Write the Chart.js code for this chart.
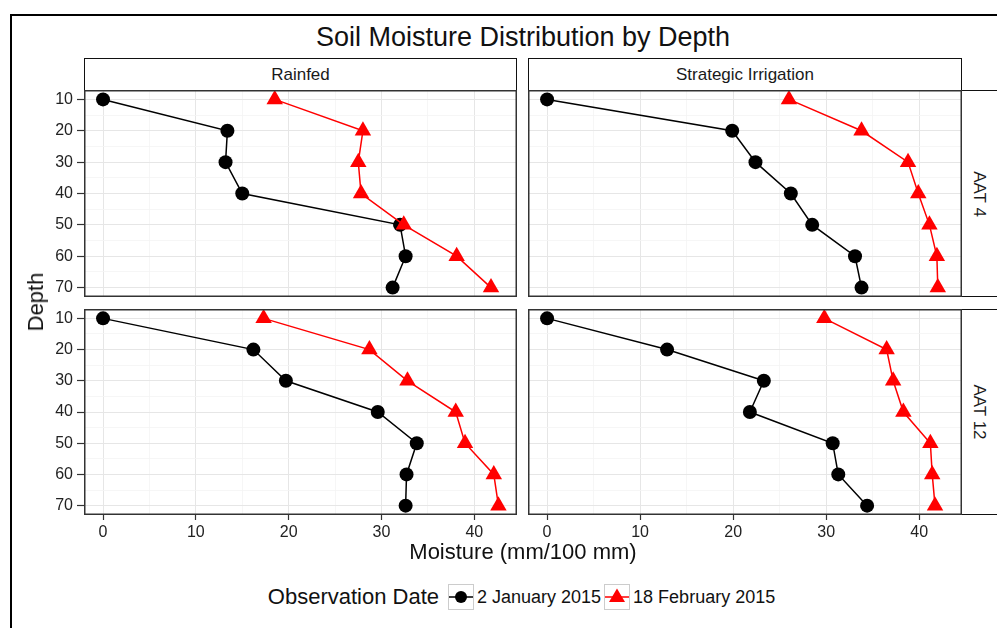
<!DOCTYPE html>
<html>
<head>
<meta charset="utf-8">
<script src="https://cdn.jsdelivr.net/npm/chart.js@4.4.1/dist/chart.umd.min.js"></script>
<style>
  html, body { margin:0; padding:0; background:#fff; overflow:hidden; }
  body { width:997px; height:628px; position:relative; font-family:'Liberation Sans', Arial, sans-serif; }
  canvas { position:absolute; }
  .frame { position:absolute; left:10px; top:14px; width:1100px; height:800px; border:2px solid #000; box-sizing:border-box; }
  .strip { position:absolute; box-sizing:border-box; border:1.5px solid #111; background:#fff; color:#1a1a1a; font-size:17px; display:flex; align-items:center; justify-content:center; }
  .vtext { transform:rotate(90deg); white-space:nowrap; }
  .title { position:absolute; left:84px; width:878px; top:22px; text-align:center; font-size:27px; color:#111; }
  .xlabel { position:absolute; left:84px; width:878px; top:539px; text-align:center; font-size:22px; color:#111; }
  .ylabel { position:absolute; left:36px; top:302px; transform:translate(-50%,-50%) rotate(-90deg); font-size:22px; color:#111; white-space:nowrap; }
  .legend { position:absolute; left:84px; width:878px; top:584px; height:26px; display:flex; align-items:center; justify-content:center; color:#111; }
  .legend .lt { font-size:22px; margin-right:9px; }
  .legend .li { font-size:18px; margin-left:3px; margin-right:3px; }
  .legend svg { display:block; }
</style>
</head>
<body>
<div class="frame"></div>
<div class="title">Soil Moisture Distribution by Depth</div>

<div class="strip" style="left:84px; top:58px; width:433px; height:33px;">Rainfed</div>
<div class="strip" style="left:528px; top:58px; width:434px; height:33px;">Strategic Irrigation</div>
<div class="strip" style="left:961px; top:90px; width:60px; height:207px;"><span class="vtext" style="margin-right:25px;">AAT 4</span></div>
<div class="strip" style="left:961px; top:309px; width:60px; height:206px;"><span class="vtext" style="margin-right:25px;">AAT 12</span></div>

<canvas id="c1" width="477" height="207" style="left:40px; top:90px;"></canvas>
<canvas id="c2" width="434" height="207" style="left:528px; top:90px;"></canvas>
<canvas id="c3" width="477" height="236" style="left:40px; top:309px;"></canvas>
<canvas id="c4" width="434" height="236" style="left:528px; top:309px;"></canvas>

<div class="ylabel">Depth</div>
<div class="xlabel">Moisture (mm/100 mm)</div>

<div class="legend">
  <span class="lt">Observation Date</span>
  <svg width="26" height="26"><rect x="0.5" y="0.5" width="25" height="25" fill="#fff" stroke="#cccccc"/><line x1="1" y1="13" x2="25" y2="13" stroke="#000" stroke-width="1.5"/><circle cx="13" cy="13" r="6" fill="#000"/></svg>
  <span class="li">2 January 2015</span>
  <svg width="26" height="26"><rect x="0.5" y="0.5" width="25" height="25" fill="#fff" stroke="#cccccc"/><line x1="1" y1="13" x2="25" y2="13" stroke="#ff0000" stroke-width="1.5"/><polygon points="13,4.5 21,18 5,18" fill="#ff0000"/></svg>
  <span class="li">18 February 2015</span>
</div>

<script>
// ---- Data ----
const depths = [10, 20, 30, 40, 50, 60, 70];
const seriesNames = ['2 January 2015', '18 February 2015'];
const facetCols = ['Rainfed', 'Strategic Irrigation'];
const facetRows = ['AAT 4', 'AAT 12'];

const rainfedAAT4Jan   = [0, 13.4, 13.2, 15.0, 32.0, 32.6, 31.2];
const rainfedAAT4Feb   = [18.5, 28.0, 27.5, 27.8, 32.4, 38.1, 41.8];
const irrigAAT4Jan     = [0, 19.9, 22.4, 26.2, 28.5, 33.1, 33.8];
const irrigAAT4Feb     = [26.0, 33.8, 38.8, 39.9, 41.1, 41.9, 42.0];
const rainfedAAT12Jan  = [0, 16.2, 19.7, 29.6, 33.8, 32.7, 32.6];
const rainfedAAT12Feb  = [17.3, 28.7, 32.8, 38.0, 39.0, 42.1, 42.6];
const irrigAAT12Jan    = [0, 12.9, 23.3, 21.8, 30.7, 31.3, 34.4];
const irrigAAT12Feb    = [29.8, 36.5, 37.2, 38.3, 41.2, 41.4, 41.7];

const xTickLabels = [0, 10, 20, 30, 40];
const yTickLabels = [10, 20, 30, 40, 50, 60, 70];
const xGridValues = [0, 5, 10, 15, 20, 25, 30, 35, 40];
const yGridValues = [10, 15, 20, 25, 30, 35, 40, 45, 50, 55, 60, 65, 70];

// ---- Chart helpers ----
const FONT = "'Liberation Sans', Arial, sans-serif";
const toPts = vals => vals.map((v, i) => ({ x: v, y: depths[i] }));

const panelBorder = {
  id: 'panelBorder',
  afterDraw(chart) {
    const { ctx, chartArea: a } = chart;
    ctx.save();
    ctx.strokeStyle = '#333333';
    ctx.lineWidth = 1.5;
    ctx.strokeRect(a.left + 0.75, a.top + 0.75, a.right - a.left - 1.5, a.bottom - a.top - 1.5);
    ctx.restore();
  }
};

function isMajorX(v) { return xTickLabels.includes(v); }
function isMajorY(v) { return yTickLabels.includes(v); }

function makeChart(id, janVals, febVals, showX, showY) {
  return new Chart(document.getElementById(id), {
    type: 'scatter',
    data: {
      datasets: [
        {
          label: seriesNames[1], data: toPts(febVals), showLine: true, order: 0,
          borderColor: '#ff0000', borderWidth: 1.5, backgroundColor: '#ff0000',
          pointStyle: 'triangle', pointRadius: 9.5, pointBorderWidth: 0, pointBackgroundColor: '#ff0000', clip: false
        },
        {
          label: seriesNames[0], data: toPts(janVals), showLine: true, order: 1,
          borderColor: '#000000', borderWidth: 1.5, backgroundColor: '#000000',
          pointStyle: 'circle', pointRadius: 7, pointBorderWidth: 0, pointBackgroundColor: '#000000', clip: false
        }
      ]
    },
    options: {
      responsive: false, animation: false, devicePixelRatio: 1,
      layout: { padding: 0, autoPadding: false },
      plugins: { legend: { display: false }, tooltip: { enabled: false }, title: { display: false } },
      scales: {
        x: {
          type: 'linear', min: -2.05, max: 44.6,
          afterBuildTicks: s => { s.ticks = xGridValues.map(v => ({ value: v })); },
          afterFit: s => { s.height = showX ? 30 : 0; s.paddingLeft = 0; s.paddingRight = 0; },
          border: { display: false },
          grid: {
            color: c => isMajorX(c.tick.value) ? '#e6e6e6' : '#f4f4f4',
            lineWidth: c => isMajorX(c.tick.value) ? 1 : 0.8,
            drawTicks: showX, tickLength: 5,
            tickColor: c => isMajorX(c.tick.value) ? '#333333' : 'rgba(0,0,0,0)', tickWidth: 1.2
          },
          ticks: {
            display: showX, padding: 3, color: '#222222', maxRotation: 0, autoSkip: false,
            font: { size: 16, family: FONT },
            callback: v => isMajorX(v) ? String(v) : ''
          }
        },
        y: {
          type: 'linear', reverse: true, min: 7, max: 73,
          afterBuildTicks: s => { s.ticks = yGridValues.map(v => ({ value: v })); },
          afterFit: s => { s.width = showY ? 44 : 0; s.paddingTop = 0; s.paddingBottom = 0; },
          border: { display: false },
          grid: {
            color: c => isMajorY(c.tick.value) ? '#e6e6e6' : '#f4f4f4',
            lineWidth: c => isMajorY(c.tick.value) ? 1 : 0.8,
            drawTicks: showY, tickLength: 7,
            tickColor: c => isMajorY(c.tick.value) ? '#333333' : 'rgba(0,0,0,0)', tickWidth: 1.2
          },
          ticks: {
            display: showY, padding: 4, color: '#222222', autoSkip: false,
            font: { size: 16, family: FONT },
            callback: v => isMajorY(v) ? String(v) : ''
          }
        }
      }
    },
    plugins: [panelBorder]
  });
}

makeChart('c1', rainfedAAT4Jan, rainfedAAT4Feb, false, true);
makeChart('c2', irrigAAT4Jan, irrigAAT4Feb, false, false);
makeChart('c3', rainfedAAT12Jan, rainfedAAT12Feb, true, true);
makeChart('c4', irrigAAT12Jan, irrigAAT12Feb, true, false);
</script>
</body>
</html>
